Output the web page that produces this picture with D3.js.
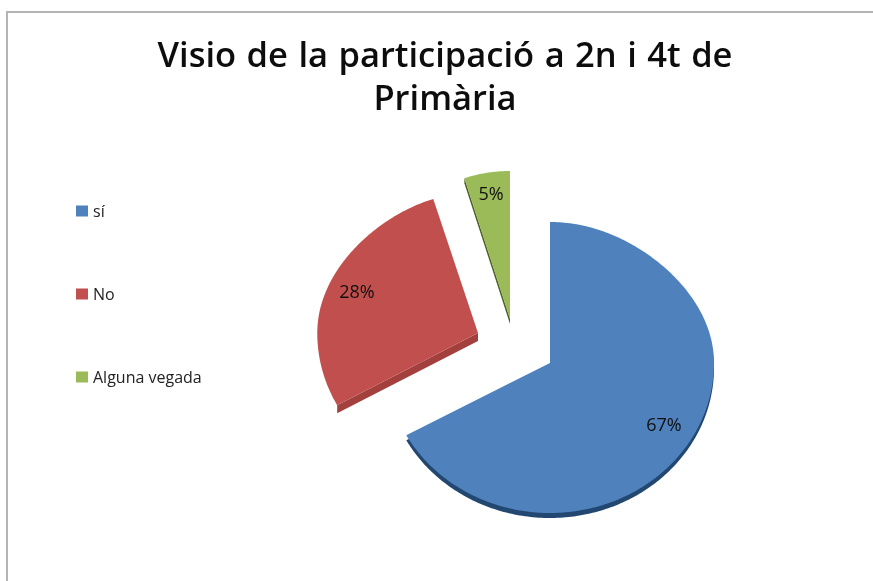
<!DOCTYPE html>
<html>
<head>
<meta charset="utf-8">
<script src="https://cdn.jsdelivr.net/npm/d3@7"></script>
<style>
  html, body { margin: 0; padding: 0; background: #fff; }
  svg { display: block; }
</style>
</head>
<body>
<div id="viz"></div>
<script>
const categories = ['sí', 'No', 'Alguna vegada'];
const values = [67, 28, 5];
const titleLines = ['Visio de la participació a 2n i 4t de', 'Primària'];

const colors = ['#4f81bd', '#c0504d', '#9bbb59'];
const sideColors = ['#24466f', '#a33f3c', '#4b5f26'];

const width = 873;
const height = 581;

const rx = 164;
const ryTop = 141;
const ryBottom = 150;

const svg = d3.select('#viz').append('svg')
  .attr('width', width)
  .attr('height', height)
  .style('font-family', '"Open Sans", sans-serif');

// the source is a soft jpeg screenshot
svg.append('defs').append('filter')
  .attr('id', 'soft')
  .append('feGaussianBlur')
  .attr('stdDeviation', 0.45);

const root = svg.append('g').attr('filter', 'url(#soft)');

// chart frame, only top and left edges are inside the crop
root.append('path')
  .attr('d', `M7,${height}V12H${width}`)
  .attr('fill', 'none')
  .attr('stroke', '#b4b4b4')
  .attr('stroke-width', 2);

root.append('g')
  .selectAll('text')
  .data(titleLines)
  .join('text')
  .attr('x', 445)
  .attr('y', (d, i) => 67 + i * 43)
  .attr('text-anchor', 'middle')
  .attr('font-size', 34.5)
  .attr('font-weight', 600)
  .attr('word-spacing', 1.5)
  .attr('fill', '#111')
  .text(d => d);

const pie = d3.pie().sort(null).value(d => d);
const slices = pie(values);

// 3d tilt of the pie: near half is stretched, far half squeezed and narrowed
function project(a) {
  const c = Math.cos(a);
  const s = Math.sin(a);
  return [s * rx * (1 - 0.11 * Math.max(c, 0) ** 2), -c * (c > 0 ? ryTop : ryBottom)];
}

const line = d3.line();

function rimPoints(d) {
  const n = Math.ceil((d.endAngle - d.startAngle) * 60);
  return d3.range(n + 1).map(k => project(d.startAngle + (d.endAngle - d.startAngle) * k / n));
}

function slicePath(d) {
  return line([[0, 0], ...rimPoints(d)]) + 'Z';
}

// red and green only show their side along the first cut edge
function edgePath(d, i) {
  const e = project(d.startAngle);
  return line([[0, -depth[i]], [e[0], e[1] - depth[i]], e, [0, 0]]) + 'Z';
}

// where each exploded slice has its tip, how it is resized, and its side wall
const tips = [[550, 363], [478, 333], [510, 319]];
const stretch = [[1, 1], [0.98, 1], [1, 1.05]];
const depth = [5, 8, 5];

const sliceG = root.selectAll('.slice')
  .data(slices)
  .join('g')
  .attr('class', 'slice');

sliceG.append('path')
  .attr('d', (d, i) => i === 0 ? slicePath(d) : edgePath(d, i))
  .attr('fill', (d, i) => sideColors[i])
  .attr('transform', (d, i) => `translate(${tips[i][0]},${tips[i][1] + depth[i]}) scale(${stretch[i]})`);

sliceG.append('path')
  .attr('d', slicePath)
  .attr('fill', (d, i) => colors[i])
  .attr('transform', (d, i) => `translate(${tips[i][0]},${tips[i][1]}) scale(${stretch[i]})`);

const labelPos = [[664, 425], [357, 292], [491, 194]];

sliceG.append('text')
  .attr('x', (d, i) => labelPos[i][0])
  .attr('y', (d, i) => labelPos[i][1])
  .attr('dy', '0.35em')
  .attr('text-anchor', 'middle')
  .attr('font-size', 18)
  .attr('fill', '#111')
  .text((d, i) => values[i] + '%');

const legendY = d3.scalePoint()
  .domain(categories)
  .range([211, 377]);

const legend = root.selectAll('.legend')
  .data(categories)
  .join('g')
  .attr('class', 'legend')
  .attr('transform', d => `translate(76,${legendY(d)})`);

legend.append('rect')
  .attr('y', -5.5)
  .attr('width', 12)
  .attr('height', 11)
  .attr('fill', (d, i) => colors[i]);

legend.append('text')
  .attr('x', 17)
  .attr('dy', '0.35em')
  .attr('font-size', 16)
  .attr('fill', '#222')
  .text(d => d);
</script>
</body>
</html>
